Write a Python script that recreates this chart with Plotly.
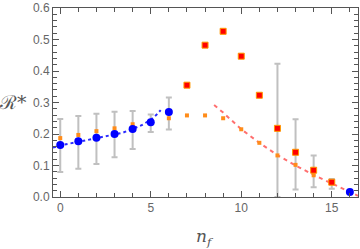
import plotly.graph_objects as go

# Blue (n_f = 0..6, 16)
blue_x = [0, 1, 2, 3, 4, 5, 6, 16]
blue_y = [0.165, 0.177, 0.188, 0.200, 0.216, 0.237, 0.270, 0.016]

# Orange small squares (n_f = 0..15)
orange_x = list(range(0, 16))
orange_y = [0.187, 0.197, 0.209, 0.218, 0.231, 0.240, 0.250, 0.259,
            0.259, 0.250, 0.215, 0.172, 0.132, 0.102, 0.069, 0.045]

# Red squares (n_f = 7..15)
red_x = [7, 8, 9, 10, 11, 12, 13, 14, 15]
red_y = [0.355, 0.482, 0.526, 0.447, 0.323, 0.218, 0.142, 0.085, 0.047]

# Error bars: position, top, bottom
err_x = [0, 1, 2, 3, 4, 5, 6, 12, 13, 14, 15]
err_top = [0.248, 0.257, 0.264, 0.271, 0.273, 0.262, 0.316, 0.423, 0.247, 0.132, 0.057]
err_bot = [0.079, 0.090, 0.105, 0.126, 0.152, 0.206, 0.214, 0.000, 0.024, 0.031, 0.026]

# Blue dotted curve
bline_x = [-0.4, 0, 1, 2, 3, 3.45, 4, 4.5, 5, 5.3, 5.55]
bline_y = [0.157, 0.164, 0.175, 0.186, 0.198, 0.204, 0.216, 0.228, 0.245, 0.260, 0.276]

# Red dashed curve
rline_x = [8.5, 9, 10, 11, 12, 13, 14, 15, 16, 16.45]
rline_y = [0.292, 0.268, 0.215, 0.172, 0.133, 0.100, 0.070, 0.043, 0.015, 0.004]

err_c = [(t + b) / 2 for t, b in zip(err_top, err_bot)]
err_p = [t - c for t, c in zip(err_top, err_c)]

fig = go.Figure()
fig.add_trace(go.Scatter(
    x=err_x, y=err_c, mode="markers", marker=dict(size=1, opacity=0),
    error_y=dict(type="data", array=err_p, symmetric=True,
                 color="rgba(150,150,150,0.6)", thickness=2, width=3),
    hoverinfo="skip"))
fig.add_trace(go.Scatter(x=bline_x, y=bline_y, mode="lines",
                         line=dict(color="#2a2aff", width=2, dash="dot")))
fig.add_trace(go.Scatter(x=rline_x, y=rline_y, mode="lines",
                         line=dict(color="#ff6f6f", width=2, dash="4px,4px")))
fig.add_trace(go.Scatter(x=orange_x, y=orange_y, mode="markers",
                         marker=dict(symbol="square", size=4, color="#ff8c1a")))
fig.add_trace(go.Scatter(x=red_x, y=red_y, mode="markers",
                         marker=dict(symbol="square", size=6, color="#ff0000",
                                     line=dict(color="#ff9900", width=1))))
fig.add_trace(go.Scatter(x=blue_x, y=blue_y, mode="markers",
                         marker=dict(symbol="circle", size=8, color="#0000ff")))

L, R, T, B = 53, 2, 8, 52
W, H = 360, 249
axis_common = dict(showgrid=False, zeroline=False, showline=True, linecolor="#555555",
                   linewidth=1, mirror="allticks", ticks="inside", tickcolor="#555555",
                   ticklen=6, automargin=False,
                   tickfont=dict(family="Liberation Sans, Arial", size=12, color="#666666"))
pw, ph = W - L - R, H - T - B
fig.update_layout(
    width=W, height=H, margin=dict(l=L, r=R, t=T, b=B, autoexpand=False),
    paper_bgcolor="white", plot_bgcolor="white", showlegend=False,
    xaxis=dict(range=[-0.4, 16.45], tickmode="linear", tick0=0, dtick=5,
               minor=dict(dtick=1, tick0=0, ticks="inside", ticklen=4, tickcolor="#555555"),
               **axis_common),
    yaxis=dict(range=[0, 0.6], tickmode="linear", tick0=0, dtick=0.1, tickformat=".1f",
               minor=dict(dtick=0.02, tick0=0, ticks="inside", ticklen=4, tickcolor="#555555"),
               **axis_common),
    annotations=[
        dict(text="<i>n<sub>f</sub></i>", x=(205 - L) / pw, y=1 - (237 - T) / ph,
             xref="paper", yref="paper", showarrow=False, xanchor="center", yanchor="middle",
             font=dict(family="DejaVu Serif", size=17, color="#555555")),
        dict(text="ℛ*", x=(13 - L) / pw, y=1 - (102 - T) / ph,
             xref="paper", yref="paper", showarrow=False, xanchor="center", yanchor="middle",
             font=dict(family="DejaVu Serif", size=19, color="#555555")),
    ],
)
fig.write_html("out.html", config={"displayModeBar": False},
               post_script="document.body.style.margin='0';")
